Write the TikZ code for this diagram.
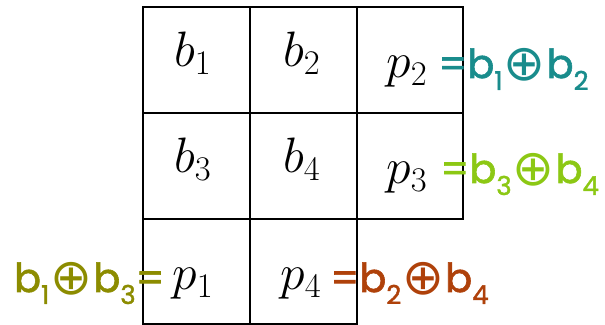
\documentclass[tikz,border=0pt]{standalone}
\usepackage{fontspec}
\usepackage{tikz}
\newfontfamily\handfont{Poppins}[FakeBold=1.5]
\newfontfamily\symbfont{DejaVu Sans}
\definecolor{handteal}{RGB}{25,140,140}
\definecolor{handlime}{RGB}{140,200,20}
\definecolor{handolive}{RGB}{140,140,0}
\definecolor{handbrown}{RGB}{175,65,10}
\newcommand{\hsub}[1]{\raisebox{-0.3em}{\fontsize{13}{13}\selectfont #1}}
\newcommand{\xorsign}{\kern0.5pt\raisebox{-0.06em}{\fontsize{25}{25}\symbfont\char"2295}\kern0.5pt}
\tikzset{
  gridline/.style={line width=1pt, draw=black},
  celltext/.style={
    font=\fontsize{24.5}{28}\selectfont,
    anchor=base,
    inner sep=0pt
  },
  note/.style={
    font=\handfont\fontsize{20}{24}\selectfont,
    anchor=base west,
    inner sep=0pt
  }
}
\begin{document}
\begin{tikzpicture}[x=0.5pt,y=-0.5pt]
  \useasboundingbox[fill=white] (0,0) rectangle (605,325);
  % outline and inner lines of the parity grid
  \draw[gridline] (143,7) -| (463,219) -| (357,324) -| cycle;
  \draw[gridline] (250,7) -- (250,324);
  \draw[gridline] (357,7) -- (357,219);
  \draw[gridline] (143,113) -- (463,113);
  \draw[gridline] (143,219) -- (357,219);

  \node[celltext] (b1) at (193,67) {$b_1$};
  \node[celltext] (b2) at (302,67) {$b_2$};
  \node[celltext] (p2) at (407,78) {$p_2$};
  \node[celltext] (b3) at (193,173) {$b_3$};
  \node[celltext] (b4) at (302,173) {$b_4$};
  \node[celltext] (p3) at (407,184) {$p_3$};
  \node[celltext] (p1) at (193,290) {$p_1$};
  \node[celltext] (p4) at (301,290) {$p_4$};

  % handwritten parity equations
  \node[note,text=handteal] (eqp2) at (438,78) {=b\hsub{1}\xorsign b\hsub{2}};
  \node[note,text=handlime] (eqp3) at (440,183) {=b\hsub{3}\xorsign b\hsub{4}};
  \node[note,text=handolive,anchor=base east] (eqp1) at (165,292) {b\hsub{1}\xorsign b\hsub{3}=};
  \node[note,text=handbrown] (eqp4) at (330,292) {=b\hsub{2}\xorsign b\hsub{4}};
\end{tikzpicture}
\end{document}
